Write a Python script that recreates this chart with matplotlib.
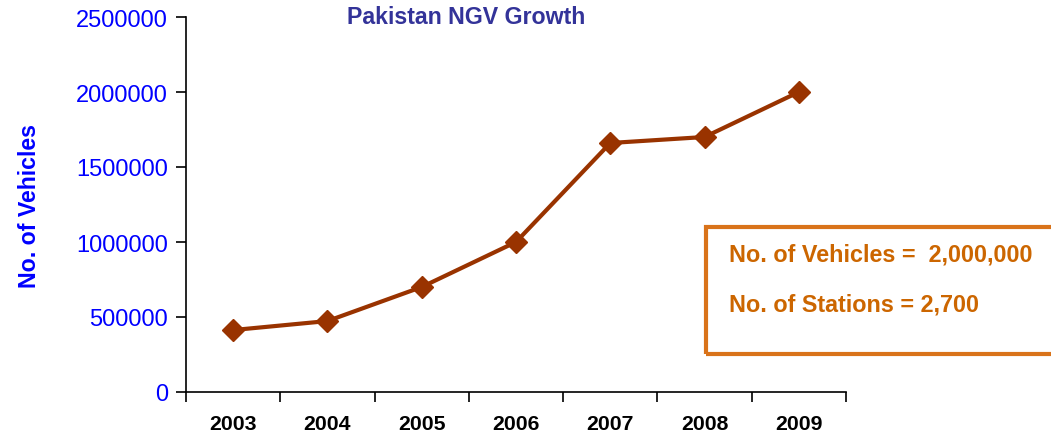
import numpy as np
import matplotlib.pyplot as plt
from matplotlib.patches import Rectangle

plt.rcParams['font.family'] = ['Liberation Sans', 'DejaVu Sans']

# dados
years = ['2003', '2004', '2005', '2006', '2007', '2008', '2009']
vehicles = [413000, 473000, 700000, 1000000, 1660000, 1700000, 2000000]
y_ticks = [0, 500000, 1000000, 1500000, 2000000, 2500000]

fig = plt.figure(figsize=(10.51, 4.35), dpi=100)
ax = fig.add_axes([186 / 1051, 1 - 393 / 435, 660 / 1051, 375 / 435])

x = np.arange(len(years))
ax.plot(x, vehicles, color='#993300', linewidth=3, marker='D', markersize=11,
        markerfacecolor='#993300', markeredgecolor='#993300')

ax.set_xlim(-0.5, len(years) - 0.5)
ax.set_ylim(0, 2500000)
ax.set_yticks(y_ticks)
ax.set_yticklabels([str(v) for v in y_ticks], color='blue', fontsize=17)

# ticks do eixo x entre as categorias, rótulos no centro
ax.set_xticks(np.arange(-0.5, len(years), 1.0))
ax.set_xticklabels([])
ax.set_xticks(x, minor=True)
ax.set_xticklabels(years, minor=True, fontsize=15.3, fontweight='bold')
ax.tick_params(axis='x', which='minor', length=0, pad=16)
ax.tick_params(axis='x', which='major', length=7, width=1.2, direction='out')
ax.tick_params(axis='y', length=7, width=1.2, direction='out', pad=6)

for s in ['top', 'right']:
    ax.spines[s].set_visible(False)
for s in ['left', 'bottom']:
    ax.spines[s].set_linewidth(1.2)

ax.set_ylabel('No. of Vehicles', color='blue', fontsize=16.7, fontweight='bold')
ax.yaxis.set_label_coords(-0.22, 0.5)

fig.text(466 / 1051, 1 - 17 / 435, 'Pakistan NGV Growth', color='#333399',
         fontsize=16.7, fontweight='bold', ha='center', va='center')

# caixa de informação
box = Rectangle((706 / 1051, 1 - 355 / 435), 0.4, 127 / 435, transform=fig.transFigure,
                fill=False, edgecolor='#D9731A', linewidth=3, clip_on=False)
fig.patches.append(box)
fig.text(729 / 1051, 1 - 255 / 435, 'No. of Vehicles =  2,000,000', color='#CC6600',
         fontsize=16.8, fontweight='bold', va='center')
fig.text(729 / 1051, 1 - 305 / 435, 'No. of Stations = 2,700', color='#CC6600',
         fontsize=16.8, fontweight='bold', va='center')

fig.savefig('out.png', dpi=100)
